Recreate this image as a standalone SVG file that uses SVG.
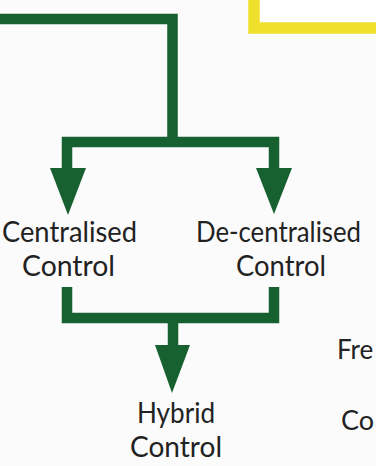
<svg xmlns="http://www.w3.org/2000/svg" width="376" height="466" viewBox="0 0 376 466">
<style>
.bg{fill:#fbfbfb}
.ln{fill:none;stroke:#17602f;stroke-width:10.5;stroke-linejoin:miter;stroke-linecap:butt}
.ah{fill:#17602f}
.lbl{font-family:Lato,"Open Sans","Liberation Sans",sans-serif;font-size:28px;fill:#222;text-anchor:middle}
.lbl2{font-family:Lato,"Open Sans","Liberation Sans",sans-serif;fill:#222}
</style>
<rect class="bg" x="0" y="0" width="376" height="466"/>
<g id="yellow-box">
<rect x="254" y="-50" width="200" height="78" fill="#ffffff" stroke="#efe02c" stroke-width="11.5"/>
</g>
<g id="connectors">
<path class="ln" d="M0 19 H172.5 V142"/>
<path class="ln" d="M67 168 V142 H274 V168"/>
<polygon class="ah" points="50,168 86,168 68,215"/>
<polygon class="ah" points="256,168 292,168 274,214"/>
<path class="ln" d="M67 287 V318 H274 V287"/>
<path class="ln" d="M173 318 V346"/>
<polygon class="ah" points="155,345 190,345 172,393"/>
</g>
<g id="centralised">
<text class="lbl" x="69.5" y="242" textLength="135" lengthAdjust="spacingAndGlyphs">Centralised</text>
<text class="lbl" x="68.5" y="276" textLength="93" lengthAdjust="spacingAndGlyphs">Control</text>
</g>
<g id="decentralised">
<text class="lbl" x="278.5" y="242" textLength="165" lengthAdjust="spacingAndGlyphs">De-centralised</text>
<text class="lbl" x="281" y="276" textLength="90" lengthAdjust="spacingAndGlyphs">Control</text>
</g>
<g id="hybrid">
<text class="lbl" x="176" y="423" textLength="78" lengthAdjust="spacingAndGlyphs">Hybrid</text>
<text class="lbl" x="176" y="457" textLength="92" lengthAdjust="spacingAndGlyphs">Control</text>
</g>
<g id="free">
<text class="lbl2" x="337" y="359" style="font-size:26px">Fre</text>
</g>
<g id="co">
<text class="lbl2" x="341" y="430" style="font-size:27px">Co</text>
</g>
</svg>
